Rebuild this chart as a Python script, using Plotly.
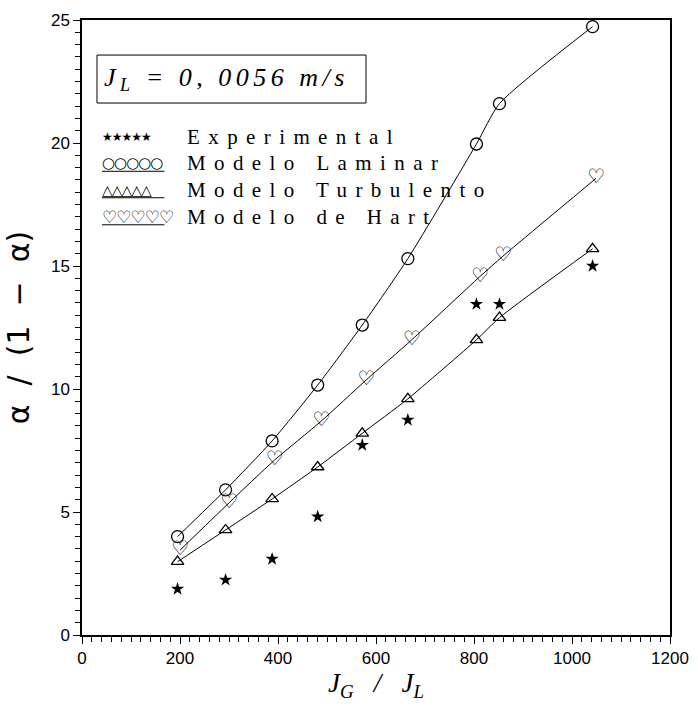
import plotly.graph_objects as go

# ---- data ----
jg_jl = [195, 293, 388, 481, 572, 665, 805, 852, 1042]
jg_jl_hart = [200, 300, 393, 488, 580, 673, 812, 859, 1049]
experimental = [1.87, 2.24, 3.09, 4.81, 7.72, 8.74, 13.45, 13.45, 15.0]
laminar = [4.0, 5.9, 7.89, 10.16, 12.6, 15.3, 19.96, 21.6, 24.73]
turbulento = [2.98, 4.27, 5.53, 6.83, 8.2, 9.6, 12.0, 12.9, 15.7]
hart = [3.45, 5.37, 7.11, 8.69, 10.37, 12.0, 14.57, 15.4, 18.56]

legend_labels = ["Experimental", "Modelo Laminar", "Modelo Turbulento", "Modelo de Hart"]

fig = go.Figure()

line_style = dict(color="black", width=1, shape="spline", smoothing=0.6)

fig.add_trace(go.Scatter(x=jg_jl, y=laminar, mode="lines+markers", line=line_style,
                         marker=dict(symbol="circle-open", size=12, color="black",
                                     line=dict(width=1.3, color="black")),
                         showlegend=False))
fig.add_trace(go.Scatter(x=jg_jl, y=turbulento, mode="lines+markers", line=line_style,
                         marker=dict(symbol="triangle-up-open", size=11, color="black",
                                     line=dict(width=1.3, color="black")),
                         showlegend=False))
fig.add_trace(go.Scatter(x=jg_jl_hart, y=hart, mode="lines", line=line_style,
                         showlegend=False))
fig.add_trace(go.Scatter(x=jg_jl_hart, y=hart, mode="text", text=["♡"] * len(hart),
                         textposition="middle center",
                         textfont=dict(family="DejaVu Sans", size=20, color="black",
                                       weight="bold"),
                         showlegend=False))
fig.add_trace(go.Scatter(x=jg_jl, y=experimental, mode="markers",
                         marker=dict(symbol="star", size=10, color="black"),
                         showlegend=False))

annotations = []
# J_L box text (box drawn as a shape)
annotations.append(dict(
    xref="paper", yref="paper", x=0.034, y=0.904, xanchor="left", yanchor="middle",
    text="<i>J<sub>L</sub> = 0, 0056 m/s</i>", showarrow=False, align="left",
    font=dict(family="Liberation Serif", size=26, color="black")))

rows_y = [0.810, 0.767, 0.724, 0.680]
symbols = ["★★★★★", "○○○○○", "△△△△△", "♡♡♡♡♡"]
sym_sizes = [12, 15, 14, 17]
for lbl, yy, s, ss in zip(legend_labels, rows_y, symbols, sym_sizes):
    annotations.append(dict(
        xref="paper", yref="paper", x=0.176, y=yy, xanchor="left", yanchor="middle",
        text=lbl, showarrow=False, align="left",
        font=dict(family="Liberation Serif", size=21, color="black")))
    annotations.append(dict(
        xref="paper", yref="paper", x=0.030, y=yy, xanchor="left", yanchor="middle",
        text=s, showarrow=False, align="left",
        font=dict(family="DejaVu Sans", size=ss, color="black")))

shapes = [dict(type="rect", xref="paper", yref="paper",
               x0=0.0255, x1=0.483, y0=0.865, y1=0.943,
               line=dict(color="black", width=1), fillcolor="rgba(0,0,0,0)")]
for yy in rows_y[1:]:
    shapes.append(dict(type="line", xref="paper", yref="paper",
                       x0=0.034, x1=0.14, y0=yy - 0.013, y1=yy - 0.013,
                       line=dict(color="black", width=1)))

fig.update_layout(
    width=698, height=708,
    margin=dict(l=82, r=28, t=20, b=73, autoexpand=False),
    paper_bgcolor="white", plot_bgcolor="white",
    annotations=annotations, shapes=shapes,
    font=dict(family="Liberation Sans Narrow, Liberation Sans", color="black"),
)
fig.update_xaxes(
    range=[0, 1200], tick0=0, dtick=200, showgrid=False, zeroline=False,
    showline=True, linecolor="black", linewidth=1.5, mirror=True, automargin=False,
    ticks="outside", ticklen=7, tickwidth=1, tickcolor="black",
    minor=dict(dtick=20, ticks="outside", ticklen=5, tickwidth=1, tickcolor="black"),
    tickfont=dict(family="Liberation Sans Narrow, Liberation Sans", size=17, color="black"),
    title=dict(text="<i>J<sub>G</sub></i>   <i>/</i>   <i>J<sub>L</sub></i>",
               font=dict(family="Liberation Serif", size=27, color="black"), standoff=2),
)
fig.update_yaxes(
    range=[0, 25], tick0=0, dtick=5, showgrid=False, zeroline=False,
    showline=True, linecolor="black", linewidth=1.5, mirror=True, automargin=False,
    ticks="outside", ticklen=7, tickwidth=1, tickcolor="black",
    minor=dict(dtick=0.5, ticks="outside", ticklen=5, tickwidth=1, tickcolor="black"),
    tickfont=dict(family="Liberation Sans Narrow, Liberation Sans", size=17, color="black"),
    title=dict(text="α  /  (1  −  α)",
               font=dict(family="DejaVu Sans", size=30, color="black"), standoff=12),
)

post = """
document.body.style.margin = '0';
document.body.style.overflow = 'hidden';
var gd = document.getElementById('{plot_id}');
var anns = gd.querySelectorAll('g.annotation');
anns.forEach(function(g){
  var idx = parseInt(g.getAttribute('data-index'));
  var t = g.querySelector('text.annotation-text');
  if(!t) return;
  if(idx === 0){ t.style.letterSpacing = '4.5px'; }
  else if(idx % 2 === 1){ t.style.letterSpacing = '8.4px'; }
  else { t.style.letterSpacing = '-1px'; }
});
"""
fig.write_html("out.html", post_script=post, config={"displayModeBar": False})
